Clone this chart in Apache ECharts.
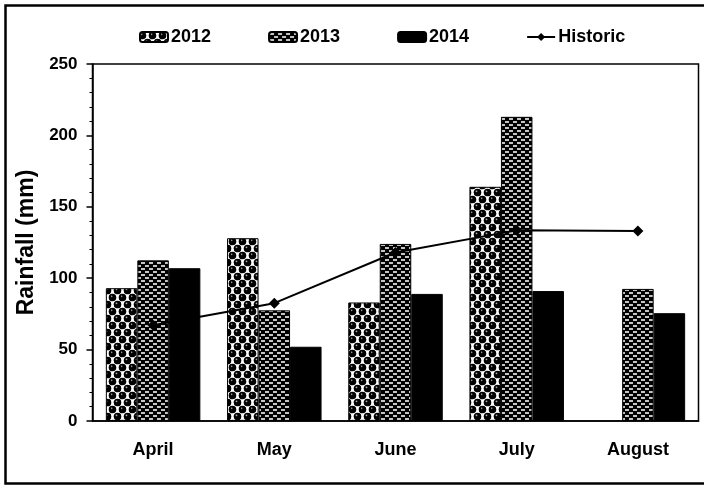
<!DOCTYPE html>
<html>
<head>
<meta charset="utf-8">
<script src="https://cdn.jsdelivr.net/npm/echarts@6/dist/echarts.min.js"></script>
<style>
  html, body { margin: 0; padding: 0; background: #fff; }
  #main { width: 704px; height: 485px; }
</style>
</head>
<body>
<div id="main"></div>
<script>
const months = ['April', 'May', 'June', 'July', 'August']
const rain2012 = [93, 128, 83, 164, null]
const rain2013 = [112.5, 77.5, 124, 213, 92.5]
const rain2014 = [107, 52, 89, 91, 75.5]
const historic = [67, 82.5, 118, 133.5, 133]
const yTicks = [0, 50, 100, 150, 200, 250]

const FONT = '"Liberation Sans", Arial, sans-serif'

// ball pattern for 2012
function ballPattern () {
  let c = document.createElement('canvas')
  c.width = 10
  c.height = 14
  let ctx = c.getContext('2d')
  ctx.fillStyle = '#fff'
  ctx.fillRect(0, 0, 10, 14)
  let pts = [[2.5, 3.5], [7.5, 10.5], [12.5, 3.5], [-2.5, 10.5], [2.5, 17.5], [7.5, -3.5], [-2.5, 3.5], [12.5, 10.5]]
  pts.forEach(p => {
    ctx.fillStyle = '#000'
    ctx.beginPath()
    ctx.arc(p[0], p[1], 3.8, 0, Math.PI * 2)
    ctx.fill()
    ctx.fillStyle = '#aaa'
    ctx.beginPath()
    ctx.arc(p[0] - 1, p[1] - 1.2, 0.9, 0, Math.PI * 2)
    ctx.fill()
  })
  return c
}

// dash pattern for 2013
function dashPattern () {
  let c = document.createElement('canvas')
  c.width = 8
  c.height = 6
  let ctx = c.getContext('2d')
  ctx.fillStyle = '#000'
  ctx.fillRect(0, 0, 8, 6)
  ctx.fillStyle = '#c4c4c4'
  ctx.fillRect(1, 1, 4, 2)
  ctx.fillRect(5, 4, 3, 2)
  ctx.fillRect(0, 4, 1, 2)
  return c
}

const chart = echarts.init(document.getElementById('main'))

const labelStyle = { color: '#000', fontFamily: FONT, fontWeight: 'bold' }

chart.setOption({
  animation: false,
  backgroundColor: '#fff',
  graphic: [{
    type: 'rect',
    shape: { x: 5.5, y: 5.5, width: 720, height: 478 },
    style: { fill: 'none', stroke: '#000', lineWidth: 2.5 },
    silent: true
  }],
  legend: {
    top: 23,
    left: 134,
    itemWidth: 28,
    itemHeight: 10,
    itemGap: 57,
    textStyle: Object.assign({ fontSize: 18, padding: [0, 0, 0, -2] }, labelStyle),
    data: ['2012', '2013', '2014', 'Historic']
  },
  grid: {
    left: 92.5,
    right: 5.5,
    top: 64,
    bottom: 64,
    show: true,
    borderColor: '#000',
    borderWidth: 1.5
  },
  xAxis: {
    type: 'category',
    data: months,
    boundaryGap: true,
    axisLine: { lineStyle: { color: '#000', width: 1.5 } },
    axisTick: { length: 6, lineStyle: { color: '#000', width: 1.5 } },
    axisLabel: Object.assign({ fontSize: 18, margin: 20 }, labelStyle)
  },
  yAxis: {
    type: 'value',
    min: yTicks[0],
    max: yTicks[yTicks.length - 1],
    interval: 50,
    name: 'Rainfall (mm)',
    nameLocation: 'middle',
    nameGap: 49,
    nameTextStyle: Object.assign({ fontSize: 23 }, labelStyle),
    axisLine: { show: true, lineStyle: { color: '#000', width: 1.5 } },
    axisTick: { show: true, length: 6, lineStyle: { color: '#000', width: 1.5 } },
    minorTick: { show: true, splitNumber: 5, length: 3, lineStyle: { color: '#000', width: 1 } },
    splitLine: { show: false },
    axisLabel: Object.assign({ fontSize: 17, margin: 15 }, labelStyle)
  },
  series: [
    {
      name: '2012',
      type: 'bar',
      data: rain2012,
      barWidth: 31.5,
      barGap: '0%',
      itemStyle: { color: { image: ballPattern(), repeat: 'repeat' }, borderColor: '#000', borderWidth: 1 }
    },
    {
      name: '2013',
      type: 'bar',
      data: rain2013,
      barWidth: 31.5,
      barGap: '0%',
      itemStyle: { color: { image: dashPattern(), repeat: 'repeat' }, borderColor: '#000', borderWidth: 1 }
    },
    {
      name: '2014',
      type: 'bar',
      data: rain2014,
      barWidth: 31.5,
      barGap: '0%',
      itemStyle: { color: '#000', borderColor: '#000', borderWidth: 1 }
    },
    {
      name: 'Historic',
      type: 'line',
      z: 10,
      data: historic,
      symbol: 'diamond',
      symbolSize: 11,
      lineStyle: { color: '#000', width: 2 },
      itemStyle: { color: '#000' }
    }
  ]
})
</script>
</body>
</html>
